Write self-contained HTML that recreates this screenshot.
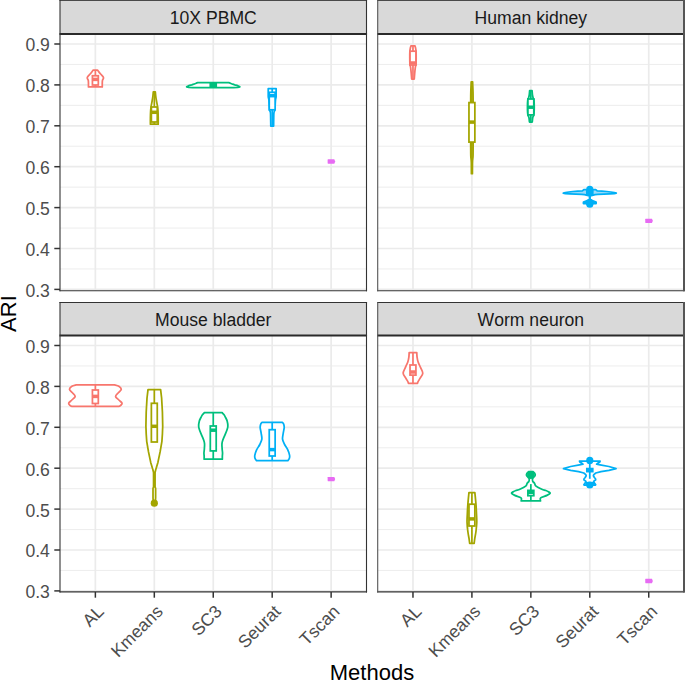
<!DOCTYPE html>
<html><head><meta charset="utf-8"><style>
html,body{margin:0;padding:0;background:#fff;overflow:hidden;}
svg{display:block;font-family:"Liberation Sans",sans-serif;font-kerning:none;}
text{font-kerning:none;}
</style></head><body>
<svg width="685" height="681" viewBox="0 0 685 681">
<rect x="0" y="0" width="685" height="681" fill="#fff"/>
<rect x="60.00" y="0.50" width="306.50" height="33.50" fill="#D9D9D9"/>
<line x1="60.00" y1="268.95" x2="366.50" y2="268.95" stroke="#EBEBEB" stroke-width="0.9"/><line x1="60.00" y1="228.05" x2="366.50" y2="228.05" stroke="#EBEBEB" stroke-width="0.9"/><line x1="60.00" y1="187.15" x2="366.50" y2="187.15" stroke="#EBEBEB" stroke-width="0.9"/><line x1="60.00" y1="146.25" x2="366.50" y2="146.25" stroke="#EBEBEB" stroke-width="0.9"/><line x1="60.00" y1="105.35" x2="366.50" y2="105.35" stroke="#EBEBEB" stroke-width="0.9"/><line x1="60.00" y1="64.45" x2="366.50" y2="64.45" stroke="#EBEBEB" stroke-width="0.9"/><line x1="60.00" y1="289.40" x2="366.50" y2="289.40" stroke="#EBEBEB" stroke-width="1.7"/><line x1="60.00" y1="248.50" x2="366.50" y2="248.50" stroke="#EBEBEB" stroke-width="1.7"/><line x1="60.00" y1="207.60" x2="366.50" y2="207.60" stroke="#EBEBEB" stroke-width="1.7"/><line x1="60.00" y1="166.70" x2="366.50" y2="166.70" stroke="#EBEBEB" stroke-width="1.7"/><line x1="60.00" y1="125.80" x2="366.50" y2="125.80" stroke="#EBEBEB" stroke-width="1.7"/><line x1="60.00" y1="84.90" x2="366.50" y2="84.90" stroke="#EBEBEB" stroke-width="1.7"/><line x1="60.00" y1="44.00" x2="366.50" y2="44.00" stroke="#EBEBEB" stroke-width="1.7"/><line x1="95.37" y1="34.00" x2="95.37" y2="290.70" stroke="#EBEBEB" stroke-width="1.7"/><line x1="154.31" y1="34.00" x2="154.31" y2="290.70" stroke="#EBEBEB" stroke-width="1.7"/><line x1="213.25" y1="34.00" x2="213.25" y2="290.70" stroke="#EBEBEB" stroke-width="1.7"/><line x1="272.19" y1="34.00" x2="272.19" y2="290.70" stroke="#EBEBEB" stroke-width="1.7"/><line x1="331.13" y1="34.00" x2="331.13" y2="290.70" stroke="#EBEBEB" stroke-width="1.7"/>
<path d="M93.27,70.00 L97.47,70.00 C97.95,70.63 99.37,72.57 100.37,73.80 C101.37,75.03 103.12,76.32 103.47,77.40 C103.82,78.48 102.67,79.28 102.47,80.30 C102.27,81.32 102.30,82.40 102.27,83.50 C102.23,84.60 102.27,86.33 102.27,86.90 L88.47,86.90 C88.47,86.33 88.50,84.60 88.47,83.50 C88.43,82.40 88.47,81.32 88.27,80.30 C88.07,79.28 86.92,78.48 87.27,77.40 C87.62,76.32 89.37,75.03 90.37,73.80 C91.37,72.57 92.78,70.63 93.27,70.00 Z" fill="#fff" stroke="#F8766D" stroke-width="1.75" stroke-linejoin="round"/><line x1="95.37" y1="70.00" x2="95.37" y2="75.75" stroke="#F8766D" stroke-width="1.75"/><line x1="95.37" y1="85.00" x2="95.37" y2="86.90" stroke="#F8766D" stroke-width="1.75"/><rect x="92.42" y="75.75" width="5.90" height="9.25" fill="#fff" stroke="#F8766D" stroke-width="1.75"/><line x1="92.42" y1="79.40" x2="98.32" y2="79.40" stroke="#F8766D" stroke-width="3.5"/><path d="M153.31,91.90 L155.31,91.90 C155.37,92.58 155.52,94.57 155.71,96.00 C155.89,97.43 156.11,98.75 156.41,100.50 C156.71,102.25 157.24,104.67 157.51,106.50 C157.77,108.33 157.89,109.58 158.01,111.50 C158.12,113.42 158.17,115.88 158.21,118.00 C158.24,120.12 158.21,123.17 158.21,124.20 L150.41,124.20 C150.41,123.17 150.37,120.12 150.41,118.00 C150.44,115.88 150.49,113.42 150.61,111.50 C150.72,109.58 150.84,108.33 151.11,106.50 C151.37,104.67 151.91,102.25 152.21,100.50 C152.51,98.75 152.72,97.43 152.91,96.00 C153.09,94.57 153.24,92.58 153.31,91.90 Z" fill="#fff" stroke="#A3A500" stroke-width="1.75" stroke-linejoin="round"/><line x1="154.31" y1="91.90" x2="154.31" y2="107.00" stroke="#A3A500" stroke-width="1.75"/><line x1="154.31" y1="122.00" x2="154.31" y2="124.20" stroke="#A3A500" stroke-width="1.75"/><rect x="151.36" y="107.00" width="5.90" height="15.00" fill="#fff" stroke="#A3A500" stroke-width="1.75"/><line x1="151.36" y1="112.30" x2="157.26" y2="112.30" stroke="#A3A500" stroke-width="3.5"/><path d="M197.75,82.70 L228.75,82.70 L230.25,83.20 L232.75,84.20 L234.75,84.90 L237.75,85.70 L239.85,86.80 L237.75,87.40 L233.75,87.70 L192.75,87.70 L188.75,87.40 L186.65,86.80 L188.75,85.70 L191.75,84.90 L193.75,84.20 L196.25,83.20 L197.75,82.70 Z" fill="#fff" stroke="#00BF7D" stroke-width="1.75" stroke-linejoin="round"/><line x1="213.25" y1="82.70" x2="213.25" y2="83.60" stroke="#00BF7D" stroke-width="1.75"/><line x1="213.25" y1="86.40" x2="213.25" y2="87.70" stroke="#00BF7D" stroke-width="1.75"/><rect x="210.30" y="83.60" width="5.90" height="2.80" fill="#fff" stroke="#00BF7D" stroke-width="1.75"/><line x1="210.30" y1="85.00" x2="216.20" y2="85.00" stroke="#00BF7D" stroke-width="3.5"/><path d="M268.24,88.50 L276.14,88.50 C276.14,89.25 276.15,91.58 276.14,93.00 C276.13,94.42 276.20,95.83 276.09,97.00 C275.98,98.17 275.66,98.50 275.49,100.00 C275.33,101.50 275.21,104.33 275.09,106.00 C274.98,107.67 274.99,108.83 274.79,110.00 C274.59,111.17 274.08,111.33 273.89,113.00 C273.71,114.67 273.74,117.82 273.69,120.00 C273.64,122.18 273.61,125.08 273.59,126.10 L270.79,126.10 C270.78,125.08 270.74,122.18 270.69,120.00 C270.64,117.82 270.68,114.67 270.49,113.00 C270.31,111.33 269.79,111.17 269.59,110.00 C269.39,108.83 269.41,107.67 269.29,106.00 C269.18,104.33 269.06,101.50 268.89,100.00 C268.73,98.50 268.40,98.17 268.29,97.00 C268.18,95.83 268.25,94.42 268.24,93.00 C268.23,91.58 268.24,89.25 268.24,88.50 Z" fill="#fff" stroke="#00B0F6" stroke-width="1.75" stroke-linejoin="round"/><line x1="272.19" y1="88.50" x2="272.19" y2="92.30" stroke="#00B0F6" stroke-width="1.75"/><line x1="272.19" y1="109.80" x2="272.19" y2="126.10" stroke="#00B0F6" stroke-width="1.75"/><rect x="269.24" y="92.30" width="5.90" height="17.50" fill="#fff" stroke="#00B0F6" stroke-width="1.75"/><line x1="269.24" y1="95.70" x2="275.14" y2="95.70" stroke="#00B0F6" stroke-width="3.5"/><polygon points="327.90,159.35 334.30,159.35 335.20,161.50 334.30,163.65 327.90,163.65 327.60,163.05 327.60,159.95" fill="#E76BF3"/>
<text x="213.25" y="24.35" text-anchor="middle" font-family="Liberation Sans" font-size="17.6" fill="#1A1A1A">10X PBMC</text>
<rect x="377.70" y="0.50" width="306.30" height="33.50" fill="#D9D9D9"/>
<line x1="377.70" y1="268.95" x2="684.00" y2="268.95" stroke="#EBEBEB" stroke-width="0.9"/><line x1="377.70" y1="228.05" x2="684.00" y2="228.05" stroke="#EBEBEB" stroke-width="0.9"/><line x1="377.70" y1="187.15" x2="684.00" y2="187.15" stroke="#EBEBEB" stroke-width="0.9"/><line x1="377.70" y1="146.25" x2="684.00" y2="146.25" stroke="#EBEBEB" stroke-width="0.9"/><line x1="377.70" y1="105.35" x2="684.00" y2="105.35" stroke="#EBEBEB" stroke-width="0.9"/><line x1="377.70" y1="64.45" x2="684.00" y2="64.45" stroke="#EBEBEB" stroke-width="0.9"/><line x1="377.70" y1="289.40" x2="684.00" y2="289.40" stroke="#EBEBEB" stroke-width="1.7"/><line x1="377.70" y1="248.50" x2="684.00" y2="248.50" stroke="#EBEBEB" stroke-width="1.7"/><line x1="377.70" y1="207.60" x2="684.00" y2="207.60" stroke="#EBEBEB" stroke-width="1.7"/><line x1="377.70" y1="166.70" x2="684.00" y2="166.70" stroke="#EBEBEB" stroke-width="1.7"/><line x1="377.70" y1="125.80" x2="684.00" y2="125.80" stroke="#EBEBEB" stroke-width="1.7"/><line x1="377.70" y1="84.90" x2="684.00" y2="84.90" stroke="#EBEBEB" stroke-width="1.7"/><line x1="377.70" y1="44.00" x2="684.00" y2="44.00" stroke="#EBEBEB" stroke-width="1.7"/><line x1="412.97" y1="34.00" x2="412.97" y2="290.70" stroke="#EBEBEB" stroke-width="1.7"/><line x1="471.91" y1="34.00" x2="471.91" y2="290.70" stroke="#EBEBEB" stroke-width="1.7"/><line x1="530.85" y1="34.00" x2="530.85" y2="290.70" stroke="#EBEBEB" stroke-width="1.7"/><line x1="589.79" y1="34.00" x2="589.79" y2="290.70" stroke="#EBEBEB" stroke-width="1.7"/><line x1="648.73" y1="34.00" x2="648.73" y2="290.70" stroke="#EBEBEB" stroke-width="1.7"/>
<path d="M410.97,45.80 L414.97,45.80 C415.07,46.17 415.38,47.03 415.57,48.00 C415.75,48.97 415.97,49.93 416.07,51.60 C416.17,53.27 416.18,55.83 416.17,58.00 C416.15,60.17 416.10,63.08 415.97,64.60 C415.83,66.12 415.58,65.60 415.37,67.10 C415.15,68.60 414.85,71.62 414.67,73.60 C414.48,75.58 414.33,78.10 414.27,79.00 L411.67,79.00 C411.60,78.10 411.45,75.58 411.27,73.60 C411.08,71.62 410.78,68.60 410.57,67.10 C410.35,65.60 410.10,66.12 409.97,64.60 C409.83,63.08 409.78,60.17 409.77,58.00 C409.75,55.83 409.77,53.27 409.87,51.60 C409.97,49.93 410.18,48.97 410.37,48.00 C410.55,47.03 410.87,46.17 410.97,45.80 Z" fill="#fff" stroke="#F8766D" stroke-width="1.75" stroke-linejoin="round"/><line x1="412.97" y1="45.80" x2="412.97" y2="51.20" stroke="#F8766D" stroke-width="1.75"/><line x1="412.97" y1="65.00" x2="412.97" y2="79.00" stroke="#F8766D" stroke-width="1.75"/><rect x="410.02" y="51.20" width="5.90" height="13.80" fill="#fff" stroke="#F8766D" stroke-width="1.75"/><line x1="410.02" y1="63.00" x2="415.92" y2="63.00" stroke="#F8766D" stroke-width="3.5"/><path d="M471.21,81.80 L472.61,81.80 C472.67,83.50 472.92,88.63 473.01,92.00 C473.09,95.37 473.07,97.33 473.11,102.00 C473.14,106.67 473.21,112.83 473.21,120.00 C473.21,127.17 473.14,139.00 473.11,145.00 C473.07,151.00 473.11,153.17 473.01,156.00 C472.91,158.83 472.61,159.05 472.51,162.00 C472.41,164.95 472.42,171.75 472.41,173.70 L471.41,173.70 C471.39,171.75 471.41,164.95 471.31,162.00 C471.21,159.05 470.91,158.83 470.81,156.00 C470.71,153.17 470.74,151.00 470.71,145.00 C470.67,139.00 470.61,127.17 470.61,120.00 C470.61,112.83 470.67,106.67 470.71,102.00 C470.74,97.33 470.72,95.37 470.81,92.00 C470.89,88.63 471.14,83.50 471.21,81.80 Z" fill="#fff" stroke="#A3A500" stroke-width="1.75" stroke-linejoin="round"/><line x1="471.91" y1="81.80" x2="471.91" y2="102.60" stroke="#A3A500" stroke-width="1.75"/><line x1="471.91" y1="142.10" x2="471.91" y2="173.70" stroke="#A3A500" stroke-width="1.75"/><rect x="468.96" y="102.60" width="5.90" height="39.50" fill="#fff" stroke="#A3A500" stroke-width="1.75"/><line x1="468.96" y1="122.10" x2="474.86" y2="122.10" stroke="#A3A500" stroke-width="3.5"/><path d="M529.65,90.60 L532.05,90.60 C532.12,91.33 532.27,93.77 532.45,95.00 C532.63,96.23 532.90,97.17 533.15,98.00 C533.40,98.83 533.77,98.50 533.95,100.00 C534.13,101.50 534.23,104.83 534.25,107.00 C534.27,109.17 534.15,111.58 534.05,113.00 C533.95,114.42 533.87,114.75 533.65,115.50 C533.43,116.25 532.98,116.42 532.75,117.50 C532.52,118.58 532.33,121.25 532.25,122.00 L529.45,122.00 C529.37,121.25 529.18,118.58 528.95,117.50 C528.72,116.42 528.27,116.25 528.05,115.50 C527.83,114.75 527.75,114.42 527.65,113.00 C527.55,111.58 527.43,109.17 527.45,107.00 C527.47,104.83 527.57,101.50 527.75,100.00 C527.93,98.50 528.30,98.83 528.55,98.00 C528.80,97.17 529.07,96.23 529.25,95.00 C529.43,93.77 529.58,91.33 529.65,90.60 Z" fill="#fff" stroke="#00BF7D" stroke-width="1.75" stroke-linejoin="round"/><line x1="530.85" y1="90.60" x2="530.85" y2="99.00" stroke="#00BF7D" stroke-width="1.75"/><line x1="530.85" y1="114.90" x2="530.85" y2="122.00" stroke="#00BF7D" stroke-width="1.75"/><rect x="527.90" y="99.00" width="5.90" height="15.90" fill="#fff" stroke="#00BF7D" stroke-width="1.75"/><line x1="527.90" y1="107.20" x2="533.80" y2="107.20" stroke="#00BF7D" stroke-width="3.5"/><path d="M583.79,189.60 L595.79,189.60 L596.59,190.30 L597.29,191.00 L601.79,191.20 L606.79,191.50 L610.79,192.00 L614.29,192.60 L616.29,193.10 L614.29,193.60 L609.79,193.90 L603.79,194.20 L597.79,194.40 L595.09,194.70 L592.29,195.30 L589.99,196.00 L589.99,199.00 L592.29,200.60 L596.09,202.00 L596.19,203.00 L596.09,203.70 L583.49,203.70 L583.39,203.00 L583.49,202.00 L587.29,200.60 L589.59,199.00 L589.59,196.00 L587.29,195.30 L584.49,194.70 L581.79,194.40 L575.79,194.20 L569.79,193.90 L565.29,193.60 L563.29,193.10 L565.29,192.60 L568.79,192.00 L572.79,191.50 L577.79,191.20 L582.29,191.00 L582.99,190.30 L583.79,189.60 Z" fill="#9ADBFA" stroke="#00B0F6" stroke-width="1.75" stroke-linejoin="round"/><rect x="583.49" y="201.90" width="12.60" height="1.90" fill="#00B0F6"/><line x1="589.79" y1="187.00" x2="589.79" y2="191.00" stroke="#00B0F6" stroke-width="1.75"/><line x1="589.79" y1="194.80" x2="589.79" y2="199.50" stroke="#00B0F6" stroke-width="1.75"/><rect x="586.84" y="191.00" width="5.90" height="3.80" fill="#fff" stroke="#00B0F6" stroke-width="1.75"/><line x1="586.84" y1="193.10" x2="592.74" y2="193.10" stroke="#00B0F6" stroke-width="3.5"/><circle cx="589.79" cy="189.40" r="3.6" fill="#00B0F6"/><circle cx="589.79" cy="202.60" r="3.6" fill="#00B0F6"/><circle cx="589.79" cy="204.20" r="3.6" fill="#00B0F6"/><polygon points="645.55,218.70 651.95,218.70 652.85,220.85 651.95,223.00 645.55,223.00 645.25,222.40 645.25,219.30" fill="#E76BF3"/>
<text x="530.85" y="24.35" text-anchor="middle" font-family="Liberation Sans" font-size="17.6" fill="#1A1A1A">Human kidney</text>
<rect x="60.00" y="302.50" width="306.50" height="33.00" fill="#D9D9D9"/>
<line x1="60.00" y1="570.45" x2="366.50" y2="570.45" stroke="#EBEBEB" stroke-width="0.9"/><line x1="60.00" y1="529.55" x2="366.50" y2="529.55" stroke="#EBEBEB" stroke-width="0.9"/><line x1="60.00" y1="488.65" x2="366.50" y2="488.65" stroke="#EBEBEB" stroke-width="0.9"/><line x1="60.00" y1="447.75" x2="366.50" y2="447.75" stroke="#EBEBEB" stroke-width="0.9"/><line x1="60.00" y1="406.85" x2="366.50" y2="406.85" stroke="#EBEBEB" stroke-width="0.9"/><line x1="60.00" y1="365.95" x2="366.50" y2="365.95" stroke="#EBEBEB" stroke-width="0.9"/><line x1="60.00" y1="590.90" x2="366.50" y2="590.90" stroke="#EBEBEB" stroke-width="1.7"/><line x1="60.00" y1="550.00" x2="366.50" y2="550.00" stroke="#EBEBEB" stroke-width="1.7"/><line x1="60.00" y1="509.10" x2="366.50" y2="509.10" stroke="#EBEBEB" stroke-width="1.7"/><line x1="60.00" y1="468.20" x2="366.50" y2="468.20" stroke="#EBEBEB" stroke-width="1.7"/><line x1="60.00" y1="427.30" x2="366.50" y2="427.30" stroke="#EBEBEB" stroke-width="1.7"/><line x1="60.00" y1="386.40" x2="366.50" y2="386.40" stroke="#EBEBEB" stroke-width="1.7"/><line x1="60.00" y1="345.50" x2="366.50" y2="345.50" stroke="#EBEBEB" stroke-width="1.7"/><line x1="95.37" y1="335.50" x2="95.37" y2="591.90" stroke="#EBEBEB" stroke-width="1.7"/><line x1="154.31" y1="335.50" x2="154.31" y2="591.90" stroke="#EBEBEB" stroke-width="1.7"/><line x1="213.25" y1="335.50" x2="213.25" y2="591.90" stroke="#EBEBEB" stroke-width="1.7"/><line x1="272.19" y1="335.50" x2="272.19" y2="591.90" stroke="#EBEBEB" stroke-width="1.7"/><line x1="331.13" y1="335.50" x2="331.13" y2="591.90" stroke="#EBEBEB" stroke-width="1.7"/>
<path d="M76.27,384.80 L114.47,384.80 C115.20,385.05 117.73,385.55 118.87,386.30 C120.00,387.05 121.32,388.27 121.27,389.30 C121.22,390.33 119.52,391.32 118.57,392.50 C117.62,393.68 115.52,395.15 115.57,396.40 C115.62,397.65 117.78,398.87 118.87,400.00 C119.95,401.13 121.77,402.30 122.07,403.20 C122.37,404.10 121.15,404.87 120.67,405.40 C120.18,405.93 119.42,406.23 119.17,406.40 L71.57,406.40 C71.32,406.23 70.55,405.93 70.07,405.40 C69.58,404.87 68.37,404.10 68.67,403.20 C68.97,402.30 70.78,401.13 71.87,400.00 C72.95,398.87 75.12,397.65 75.17,396.40 C75.22,395.15 73.12,393.68 72.17,392.50 C71.22,391.32 69.52,390.33 69.47,389.30 C69.42,388.27 70.73,387.05 71.87,386.30 C73.00,385.55 75.53,385.05 76.27,384.80 Z" fill="#fff" stroke="#F8766D" stroke-width="1.75" stroke-linejoin="round"/><line x1="95.37" y1="384.80" x2="95.37" y2="390.00" stroke="#F8766D" stroke-width="1.75"/><line x1="95.37" y1="403.50" x2="95.37" y2="406.40" stroke="#F8766D" stroke-width="1.75"/><rect x="92.42" y="390.00" width="5.90" height="13.50" fill="#fff" stroke="#F8766D" stroke-width="1.75"/><line x1="92.42" y1="396.40" x2="98.32" y2="396.40" stroke="#F8766D" stroke-width="3.5"/><path d="M148.01,389.60 L160.61,389.60 L161.61,398.00 L162.41,412.00 L162.71,426.00 L162.41,434.00 L161.91,441.30 L160.11,451.90 L157.91,462.40 L155.71,469.80 L155.06,472.50 L155.06,486.70 L155.61,488.50 L155.61,498.00 L155.31,502.50 L153.31,502.50 L153.01,498.00 L153.01,488.50 L153.56,486.70 L153.56,472.50 L152.91,469.80 L150.71,462.40 L148.51,451.90 L146.71,441.30 L146.21,434.00 L145.91,426.00 L146.21,412.00 L147.01,398.00 L148.01,389.60 Z" fill="#fff" stroke="#A3A500" stroke-width="1.75" stroke-linejoin="round"/><line x1="154.31" y1="389.60" x2="154.31" y2="403.30" stroke="#A3A500" stroke-width="1.75"/><rect x="151.36" y="403.30" width="5.90" height="38.70" fill="#fff" stroke="#A3A500" stroke-width="1.75"/><line x1="151.36" y1="426.30" x2="157.26" y2="426.30" stroke="#A3A500" stroke-width="3.5"/><circle cx="154.31" cy="503.20" r="3.6" fill="#A3A500"/><path d="M204.35,412.70 L222.15,412.70 C222.47,413.05 223.48,414.00 224.05,414.80 C224.62,415.60 225.03,416.47 225.55,417.50 C226.07,418.53 226.77,419.58 227.15,421.00 C227.53,422.42 227.88,424.50 227.85,426.00 C227.82,427.50 227.42,428.53 226.95,430.00 C226.47,431.47 225.70,433.08 225.00,434.80 C224.30,436.52 223.26,438.78 222.75,440.30 C222.24,441.82 222.05,442.45 221.95,443.90 C221.85,445.35 222.05,447.48 222.15,449.00 C222.25,450.52 222.52,451.83 222.55,453.00 C222.58,454.17 222.38,454.97 222.35,456.00 C222.32,457.03 222.35,458.67 222.35,459.20 L204.15,459.20 C204.15,458.67 204.18,457.03 204.15,456.00 C204.12,454.97 203.92,454.17 203.95,453.00 C203.98,451.83 204.25,450.52 204.35,449.00 C204.45,447.48 204.65,445.35 204.55,443.90 C204.45,442.45 204.26,441.82 203.75,440.30 C203.24,438.78 202.20,436.52 201.50,434.80 C200.80,433.08 200.03,431.47 199.55,430.00 C199.08,428.53 198.68,427.50 198.65,426.00 C198.62,424.50 198.97,422.42 199.35,421.00 C199.73,419.58 200.43,418.53 200.95,417.50 C201.47,416.47 201.88,415.60 202.45,414.80 C203.02,414.00 204.03,413.05 204.35,412.70 Z" fill="#fff" stroke="#00BF7D" stroke-width="1.75" stroke-linejoin="round"/><line x1="213.25" y1="412.70" x2="213.25" y2="426.00" stroke="#00BF7D" stroke-width="1.75"/><line x1="213.25" y1="450.90" x2="213.25" y2="459.20" stroke="#00BF7D" stroke-width="1.75"/><rect x="210.30" y="426.00" width="5.90" height="24.90" fill="#fff" stroke="#00BF7D" stroke-width="1.75"/><line x1="210.30" y1="430.20" x2="216.20" y2="430.20" stroke="#00BF7D" stroke-width="3.5"/><path d="M261.89,422.40 L282.49,422.40 C282.71,422.75 283.51,423.62 283.79,424.50 C284.08,425.38 284.28,426.27 284.19,427.70 C284.10,429.13 283.52,431.18 283.24,433.10 C282.97,435.02 282.32,437.30 282.54,439.20 C282.77,441.10 283.72,442.72 284.59,444.50 C285.47,446.28 286.97,448.12 287.79,449.90 C288.62,451.68 289.28,453.80 289.54,455.20 C289.81,456.60 289.68,457.38 289.39,458.30 C289.11,459.22 288.10,460.30 287.84,460.70 L256.54,460.70 C256.28,460.30 255.28,459.22 254.99,458.30 C254.71,457.38 254.58,456.60 254.84,455.20 C255.11,453.80 255.77,451.68 256.59,449.90 C257.42,448.12 258.92,446.28 259.79,444.50 C260.67,442.72 261.62,441.10 261.84,439.20 C262.07,437.30 261.42,435.02 261.14,433.10 C260.87,431.18 260.28,429.13 260.19,427.70 C260.10,426.27 260.31,425.38 260.59,424.50 C260.88,423.62 261.68,422.75 261.89,422.40 Z" fill="#fff" stroke="#00B0F6" stroke-width="1.75" stroke-linejoin="round"/><line x1="272.19" y1="422.40" x2="272.19" y2="429.70" stroke="#00B0F6" stroke-width="1.75"/><line x1="272.19" y1="456.00" x2="272.19" y2="460.70" stroke="#00B0F6" stroke-width="1.75"/><rect x="269.24" y="429.70" width="5.90" height="26.30" fill="#fff" stroke="#00B0F6" stroke-width="1.75"/><line x1="269.24" y1="449.60" x2="275.14" y2="449.60" stroke="#00B0F6" stroke-width="3.5"/><polygon points="327.90,476.90 334.30,476.90 335.20,479.05 334.30,481.20 327.90,481.20 327.60,480.60 327.60,477.50" fill="#E76BF3"/>
<text x="213.25" y="325.70" text-anchor="middle" font-family="Liberation Sans" font-size="17.6" fill="#1A1A1A">Mouse bladder</text>
<rect x="377.70" y="302.50" width="306.30" height="33.00" fill="#D9D9D9"/>
<line x1="377.70" y1="570.45" x2="684.00" y2="570.45" stroke="#EBEBEB" stroke-width="0.9"/><line x1="377.70" y1="529.55" x2="684.00" y2="529.55" stroke="#EBEBEB" stroke-width="0.9"/><line x1="377.70" y1="488.65" x2="684.00" y2="488.65" stroke="#EBEBEB" stroke-width="0.9"/><line x1="377.70" y1="447.75" x2="684.00" y2="447.75" stroke="#EBEBEB" stroke-width="0.9"/><line x1="377.70" y1="406.85" x2="684.00" y2="406.85" stroke="#EBEBEB" stroke-width="0.9"/><line x1="377.70" y1="365.95" x2="684.00" y2="365.95" stroke="#EBEBEB" stroke-width="0.9"/><line x1="377.70" y1="590.90" x2="684.00" y2="590.90" stroke="#EBEBEB" stroke-width="1.7"/><line x1="377.70" y1="550.00" x2="684.00" y2="550.00" stroke="#EBEBEB" stroke-width="1.7"/><line x1="377.70" y1="509.10" x2="684.00" y2="509.10" stroke="#EBEBEB" stroke-width="1.7"/><line x1="377.70" y1="468.20" x2="684.00" y2="468.20" stroke="#EBEBEB" stroke-width="1.7"/><line x1="377.70" y1="427.30" x2="684.00" y2="427.30" stroke="#EBEBEB" stroke-width="1.7"/><line x1="377.70" y1="386.40" x2="684.00" y2="386.40" stroke="#EBEBEB" stroke-width="1.7"/><line x1="377.70" y1="345.50" x2="684.00" y2="345.50" stroke="#EBEBEB" stroke-width="1.7"/><line x1="412.97" y1="335.50" x2="412.97" y2="591.90" stroke="#EBEBEB" stroke-width="1.7"/><line x1="471.91" y1="335.50" x2="471.91" y2="591.90" stroke="#EBEBEB" stroke-width="1.7"/><line x1="530.85" y1="335.50" x2="530.85" y2="591.90" stroke="#EBEBEB" stroke-width="1.7"/><line x1="589.79" y1="335.50" x2="589.79" y2="591.90" stroke="#EBEBEB" stroke-width="1.7"/><line x1="648.73" y1="335.50" x2="648.73" y2="591.90" stroke="#EBEBEB" stroke-width="1.7"/>
<path d="M409.17,352.50 L416.77,352.50 C416.82,353.27 416.84,355.52 417.07,357.10 C417.29,358.68 417.52,360.25 418.12,362.00 C418.71,363.75 419.84,365.73 420.62,367.60 C421.39,369.47 422.84,371.45 422.77,373.20 C422.69,374.95 420.97,376.67 420.17,378.10 C419.37,379.53 418.41,380.93 417.97,381.80 C417.52,382.67 417.59,383.05 417.52,383.30 L408.42,383.30 C408.34,383.05 408.41,382.67 407.97,381.80 C407.52,380.93 406.57,379.53 405.77,378.10 C404.97,376.67 403.24,374.95 403.17,373.20 C403.09,371.45 404.54,369.47 405.32,367.60 C406.09,365.73 407.22,363.75 407.82,362.00 C408.41,360.25 408.64,358.68 408.87,357.10 C409.09,355.52 409.12,353.27 409.17,352.50 Z" fill="#fff" stroke="#F8766D" stroke-width="1.75" stroke-linejoin="round"/><line x1="412.97" y1="352.50" x2="412.97" y2="365.00" stroke="#F8766D" stroke-width="1.75"/><line x1="412.97" y1="375.10" x2="412.97" y2="383.30" stroke="#F8766D" stroke-width="1.75"/><rect x="410.02" y="365.00" width="5.90" height="10.10" fill="#fff" stroke="#F8766D" stroke-width="1.75"/><line x1="410.02" y1="372.00" x2="415.92" y2="372.00" stroke="#F8766D" stroke-width="3.5"/><path d="M468.96,492.50 L474.86,492.50 C475.04,494.45 475.69,500.73 475.96,504.20 C476.22,507.67 476.32,510.27 476.46,513.30 C476.59,516.33 476.84,519.37 476.76,522.40 C476.67,525.43 476.29,528.78 475.96,531.50 C475.62,534.22 475.06,536.73 474.76,538.70 C474.46,540.67 474.26,542.53 474.16,543.30 L469.66,543.30 C469.56,542.53 469.36,540.67 469.06,538.70 C468.76,536.73 468.19,534.22 467.86,531.50 C467.52,528.78 467.14,525.43 467.06,522.40 C466.97,519.37 467.22,516.33 467.36,513.30 C467.49,510.27 467.59,507.67 467.86,504.20 C468.12,500.73 468.77,494.45 468.96,492.50 Z" fill="#fff" stroke="#A3A500" stroke-width="1.75" stroke-linejoin="round"/><line x1="471.91" y1="492.50" x2="471.91" y2="504.20" stroke="#A3A500" stroke-width="1.75"/><line x1="471.91" y1="526.00" x2="471.91" y2="543.30" stroke="#A3A500" stroke-width="1.75"/><rect x="468.96" y="504.20" width="5.90" height="21.80" fill="#fff" stroke="#A3A500" stroke-width="1.75"/><line x1="468.96" y1="518.90" x2="474.86" y2="518.90" stroke="#A3A500" stroke-width="3.5"/><path d="M528.45,471.70 L533.25,471.70 C533.48,471.97 534.32,472.75 534.65,473.30 C534.98,473.85 535.28,474.47 535.25,475.00 C535.22,475.53 534.85,476.00 534.45,476.50 C534.05,477.00 533.18,477.50 532.85,478.00 C532.52,478.50 532.45,478.92 532.45,479.50 C532.45,480.08 532.51,480.88 532.85,481.50 C533.19,482.12 533.97,482.42 534.50,483.20 C535.03,483.98 534.83,485.18 536.05,486.20 C537.28,487.22 540.22,488.58 541.85,489.30 C543.48,490.02 544.75,490.08 545.85,490.50 C546.95,490.92 547.73,491.33 548.45,491.80 C549.17,492.27 550.41,492.70 550.15,493.30 C549.89,493.90 548.48,494.63 546.90,495.40 C545.32,496.17 541.72,496.98 540.65,497.90 C539.58,498.82 540.52,500.40 540.50,500.90 L521.20,500.90 C521.18,500.40 522.12,498.82 521.05,497.90 C519.98,496.98 516.38,496.17 514.80,495.40 C513.22,494.63 511.81,493.90 511.55,493.30 C511.29,492.70 512.53,492.27 513.25,491.80 C513.97,491.33 514.75,490.92 515.85,490.50 C516.95,490.08 518.22,490.02 519.85,489.30 C521.48,488.58 524.42,487.22 525.65,486.20 C526.88,485.18 526.67,483.98 527.20,483.20 C527.73,482.42 528.51,482.12 528.85,481.50 C529.19,480.88 529.25,480.08 529.25,479.50 C529.25,478.92 529.18,478.50 528.85,478.00 C528.52,477.50 527.65,477.00 527.25,476.50 C526.85,476.00 526.48,475.53 526.45,475.00 C526.42,474.47 526.72,473.85 527.05,473.30 C527.38,472.75 528.22,471.97 528.45,471.70 Z" fill="#fff" stroke="#00BF7D" stroke-width="1.75" stroke-linejoin="round"/><line x1="530.85" y1="484.10" x2="530.85" y2="490.40" stroke="#00BF7D" stroke-width="1.75"/><line x1="530.85" y1="495.70" x2="530.85" y2="500.90" stroke="#00BF7D" stroke-width="1.75"/><rect x="527.90" y="490.40" width="5.90" height="5.30" fill="#fff" stroke="#00BF7D" stroke-width="1.75"/><line x1="527.90" y1="492.40" x2="533.80" y2="492.40" stroke="#00BF7D" stroke-width="3.5"/><circle cx="530.85" cy="474.50" r="3.6" fill="#00BF7D"/><circle cx="530.85" cy="475.30" r="3.6" fill="#00BF7D"/><path d="M579.49,461.10 L600.09,461.10 L599.79,461.90 L598.09,463.00 L596.59,464.20 L600.09,464.90 L608.89,466.50 L616.09,468.60 L608.89,470.30 L600.99,471.60 L595.79,473.00 L593.79,474.60 L593.39,475.80 L594.39,477.50 L595.49,478.80 L595.69,479.80 L593.59,481.40 L594.49,483.00 L595.69,484.70 L595.29,485.20 L584.29,485.20 L583.89,484.70 L585.09,483.00 L585.99,481.40 L583.89,479.80 L584.09,478.80 L585.19,477.50 L586.19,475.80 L585.79,474.60 L583.79,473.00 L578.59,471.60 L570.69,470.30 L563.49,468.60 L570.69,466.50 L579.49,464.90 L582.99,464.20 L581.49,463.00 L579.79,461.90 L579.49,461.10 Z" fill="#fff" stroke="#00B0F6" stroke-width="1.75" stroke-linejoin="round"/><rect x="585.49" y="481.90" width="8.60" height="3.40" fill="#00B0F6"/><line x1="589.79" y1="463.50" x2="589.79" y2="468.60" stroke="#00B0F6" stroke-width="1.75"/><line x1="589.79" y1="471.60" x2="589.79" y2="478.80" stroke="#00B0F6" stroke-width="1.75"/><rect x="586.84" y="468.60" width="5.90" height="3.00" fill="#fff" stroke="#00B0F6" stroke-width="1.75"/><line x1="586.84" y1="470.10" x2="592.74" y2="470.10" stroke="#00B0F6" stroke-width="3.5"/><circle cx="589.79" cy="460.40" r="3.6" fill="#00B0F6"/><circle cx="589.79" cy="485.00" r="3.6" fill="#00B0F6"/><polygon points="645.55,578.85 651.95,578.85 652.85,581.00 651.95,583.15 645.55,583.15 645.25,582.55 645.25,579.45" fill="#E76BF3"/>
<text x="530.85" y="325.70" text-anchor="middle" font-family="Liberation Sans" font-size="17.6" fill="#1A1A1A">Worm neuron</text>
<rect x="59.45" y="0" width="307.60" height="1" fill="#4A4A4A"/>
<line x1="59.45" y1="34.00" x2="367.05" y2="34.00" stroke="#2A2A2A" stroke-width="2.1"/>
<line x1="59.45" y1="290.70" x2="367.05" y2="290.70" stroke="#333333" stroke-width="1.1"/>
<line x1="60.00" y1="0.00" x2="60.00" y2="291.25" stroke="#333333" stroke-width="1.1"/>
<line x1="366.50" y1="0.00" x2="366.50" y2="291.25" stroke="#333333" stroke-width="1.1"/>
<rect x="377.15" y="0" width="307.40" height="1" fill="#4A4A4A"/>
<line x1="377.15" y1="34.00" x2="684.55" y2="34.00" stroke="#2A2A2A" stroke-width="2.1"/>
<line x1="377.15" y1="290.70" x2="684.55" y2="290.70" stroke="#333333" stroke-width="1.1"/>
<line x1="377.70" y1="0.00" x2="377.70" y2="291.25" stroke="#555" stroke-width="1.1"/>
<rect x="683" y="0.00" width="2" height="291.30" fill="#555"/>
<line x1="59.45" y1="302.50" x2="367.05" y2="302.50" stroke="#333333" stroke-width="1.1"/>
<line x1="59.45" y1="335.50" x2="367.05" y2="335.50" stroke="#2A2A2A" stroke-width="1.8"/>
<line x1="59.45" y1="591.90" x2="367.05" y2="591.90" stroke="#333333" stroke-width="1.4"/>
<line x1="60.00" y1="302.00" x2="60.00" y2="592.45" stroke="#333333" stroke-width="1.1"/>
<line x1="366.50" y1="302.00" x2="366.50" y2="592.45" stroke="#333333" stroke-width="1.1"/>
<line x1="377.15" y1="302.50" x2="684.55" y2="302.50" stroke="#333333" stroke-width="1.1"/>
<line x1="377.15" y1="335.50" x2="684.55" y2="335.50" stroke="#2A2A2A" stroke-width="1.8"/>
<line x1="377.15" y1="591.90" x2="684.55" y2="591.90" stroke="#333333" stroke-width="1.4"/>
<line x1="377.70" y1="302.00" x2="377.70" y2="592.45" stroke="#555" stroke-width="1.1"/>
<rect x="683" y="302.00" width="2" height="290.50" fill="#555"/>
<line x1="54.30" y1="289.40" x2="60.00" y2="289.40" stroke="#333333" stroke-width="1.5"/>
<text x="49.9" y="296.80" text-anchor="end" font-family="Liberation Sans" font-size="17.6" fill="#4D4D4D">0.3</text>
<line x1="54.30" y1="248.50" x2="60.00" y2="248.50" stroke="#333333" stroke-width="1.5"/>
<text x="49.9" y="255.90" text-anchor="end" font-family="Liberation Sans" font-size="17.6" fill="#4D4D4D">0.4</text>
<line x1="54.30" y1="207.60" x2="60.00" y2="207.60" stroke="#333333" stroke-width="1.5"/>
<text x="49.9" y="215.00" text-anchor="end" font-family="Liberation Sans" font-size="17.6" fill="#4D4D4D">0.5</text>
<line x1="54.30" y1="166.70" x2="60.00" y2="166.70" stroke="#333333" stroke-width="1.5"/>
<text x="49.9" y="174.10" text-anchor="end" font-family="Liberation Sans" font-size="17.6" fill="#4D4D4D">0.6</text>
<line x1="54.30" y1="125.80" x2="60.00" y2="125.80" stroke="#333333" stroke-width="1.5"/>
<text x="49.9" y="133.20" text-anchor="end" font-family="Liberation Sans" font-size="17.6" fill="#4D4D4D">0.7</text>
<line x1="54.30" y1="84.90" x2="60.00" y2="84.90" stroke="#333333" stroke-width="1.5"/>
<text x="49.9" y="92.30" text-anchor="end" font-family="Liberation Sans" font-size="17.6" fill="#4D4D4D">0.8</text>
<line x1="54.30" y1="44.00" x2="60.00" y2="44.00" stroke="#333333" stroke-width="1.5"/>
<text x="49.9" y="51.40" text-anchor="end" font-family="Liberation Sans" font-size="17.6" fill="#4D4D4D">0.9</text>
<line x1="54.30" y1="590.90" x2="60.00" y2="590.90" stroke="#333333" stroke-width="1.5"/>
<text x="49.9" y="598.30" text-anchor="end" font-family="Liberation Sans" font-size="17.6" fill="#4D4D4D">0.3</text>
<line x1="54.30" y1="550.00" x2="60.00" y2="550.00" stroke="#333333" stroke-width="1.5"/>
<text x="49.9" y="557.40" text-anchor="end" font-family="Liberation Sans" font-size="17.6" fill="#4D4D4D">0.4</text>
<line x1="54.30" y1="509.10" x2="60.00" y2="509.10" stroke="#333333" stroke-width="1.5"/>
<text x="49.9" y="516.50" text-anchor="end" font-family="Liberation Sans" font-size="17.6" fill="#4D4D4D">0.5</text>
<line x1="54.30" y1="468.20" x2="60.00" y2="468.20" stroke="#333333" stroke-width="1.5"/>
<text x="49.9" y="475.60" text-anchor="end" font-family="Liberation Sans" font-size="17.6" fill="#4D4D4D">0.6</text>
<line x1="54.30" y1="427.30" x2="60.00" y2="427.30" stroke="#333333" stroke-width="1.5"/>
<text x="49.9" y="434.70" text-anchor="end" font-family="Liberation Sans" font-size="17.6" fill="#4D4D4D">0.7</text>
<line x1="54.30" y1="386.40" x2="60.00" y2="386.40" stroke="#333333" stroke-width="1.5"/>
<text x="49.9" y="393.80" text-anchor="end" font-family="Liberation Sans" font-size="17.6" fill="#4D4D4D">0.8</text>
<line x1="54.30" y1="345.50" x2="60.00" y2="345.50" stroke="#333333" stroke-width="1.5"/>
<text x="49.9" y="352.90" text-anchor="end" font-family="Liberation Sans" font-size="17.6" fill="#4D4D4D">0.9</text>
<line x1="95.37" y1="591.90" x2="95.37" y2="597.70" stroke="#333333" stroke-width="1.5"/>
<text transform="translate(104.97,612.6) rotate(-45)" text-anchor="end" font-family="Liberation Sans" font-size="17.6" fill="#4D4D4D">AL</text>
<line x1="154.31" y1="591.90" x2="154.31" y2="597.70" stroke="#333333" stroke-width="1.5"/>
<text transform="translate(163.91,612.6) rotate(-45)" text-anchor="end" font-family="Liberation Sans" font-size="17.6" fill="#4D4D4D">Kmeans</text>
<line x1="213.25" y1="591.90" x2="213.25" y2="597.70" stroke="#333333" stroke-width="1.5"/>
<text transform="translate(222.85,612.6) rotate(-45)" text-anchor="end" font-family="Liberation Sans" font-size="17.6" fill="#4D4D4D">SC3</text>
<line x1="272.19" y1="591.90" x2="272.19" y2="597.70" stroke="#333333" stroke-width="1.5"/>
<text transform="translate(281.79,612.6) rotate(-45)" text-anchor="end" font-family="Liberation Sans" font-size="17.6" fill="#4D4D4D">Seurat</text>
<line x1="331.13" y1="591.90" x2="331.13" y2="597.70" stroke="#333333" stroke-width="1.5"/>
<text transform="translate(340.73,612.6) rotate(-45)" text-anchor="end" font-family="Liberation Sans" font-size="17.6" fill="#4D4D4D">Tscan</text>
<line x1="412.97" y1="591.90" x2="412.97" y2="597.70" stroke="#333333" stroke-width="1.5"/>
<text transform="translate(422.57,612.6) rotate(-45)" text-anchor="end" font-family="Liberation Sans" font-size="17.6" fill="#4D4D4D">AL</text>
<line x1="471.91" y1="591.90" x2="471.91" y2="597.70" stroke="#333333" stroke-width="1.5"/>
<text transform="translate(481.51,612.6) rotate(-45)" text-anchor="end" font-family="Liberation Sans" font-size="17.6" fill="#4D4D4D">Kmeans</text>
<line x1="530.85" y1="591.90" x2="530.85" y2="597.70" stroke="#333333" stroke-width="1.5"/>
<text transform="translate(540.45,612.6) rotate(-45)" text-anchor="end" font-family="Liberation Sans" font-size="17.6" fill="#4D4D4D">SC3</text>
<line x1="589.79" y1="591.90" x2="589.79" y2="597.70" stroke="#333333" stroke-width="1.5"/>
<text transform="translate(599.39,612.6) rotate(-45)" text-anchor="end" font-family="Liberation Sans" font-size="17.6" fill="#4D4D4D">Seurat</text>
<line x1="648.73" y1="591.90" x2="648.73" y2="597.70" stroke="#333333" stroke-width="1.5"/>
<text transform="translate(658.33,612.6) rotate(-45)" text-anchor="end" font-family="Liberation Sans" font-size="17.6" fill="#4D4D4D">Tscan</text>
<text x="372" y="679.7" text-anchor="middle" font-family="Liberation Sans" font-size="22" fill="#000">Methods</text>
<text transform="translate(16.2,313.55) rotate(-90)" text-anchor="middle" font-family="Liberation Sans" font-size="22" fill="#000">ARI</text>
</svg>
</body></html>
